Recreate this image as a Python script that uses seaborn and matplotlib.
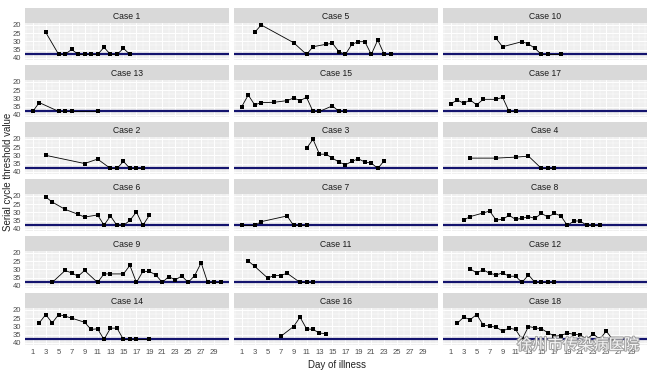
import pandas as pd
import seaborn as sns
import matplotlib.pyplot as plt
import matplotlib.patheffects as pe
from matplotlib.ticker import MultipleLocator, FixedLocator

# ---------------------------------------------------------------------
# Data: serial Ct values per case (38 = undetectable, drawn on the line)
# ---------------------------------------------------------------------
CASE_ORDER = [1, 5, 10, 13, 15, 17, 2, 3, 4, 6, 7, 8, 9, 11, 12, 14, 16, 18]
CUTOFF = 38

days_1 = [3, 5, 6, 7, 8, 9, 10, 11, 12, 13, 14, 15, 16]
ct_1 = [24.5, 38, 38, 34.9, 38, 38, 38, 38, 33.7, 38, 38, 34.3, 38]
days_5 = [3, 4, 9, 11, 12, 14, 15, 16, 17, 18, 19, 20, 21, 22, 23, 24]
ct_5 = [24.5, 20, 30.8, 38, 33.3, 31.8, 31.2, 36.3, 38, 31.8, 30.2, 30.2, 38, 29.2, 38, 38]
days_10 = [8, 9, 12, 13, 14, 15, 16, 18]
ct_10 = [28.2, 33.3, 30.2, 31.6, 34.3, 38, 38, 38]
days_13 = [1, 2, 5, 6, 7, 11]
ct_13 = [38, 32.6, 38, 38, 38, 38]
days_15 = [1, 2, 3, 4, 6, 8, 9, 10, 11, 12, 13, 15, 16, 17]
ct_15 = [35, 28, 34, 32.6, 32.4, 31.4, 29.8, 31.4, 29.4, 38, 38, 34.6, 38, 38]
days_17 = [1, 2, 3, 4, 5, 6, 8, 9, 10, 11]
ct_17 = [33.4, 31, 33, 31, 34, 30.6, 30.6, 29.4, 38, 38]
days_2 = [3, 9, 11, 13, 14, 15, 16, 17, 18]
ct_2 = [30, 35, 32.3, 38, 38, 33.7, 38, 38, 38]
days_3 = [11, 12, 13, 14, 15, 16, 17, 18, 19, 20, 21, 22, 23]
ct_3 = [25.7, 20.2, 29.3, 29.3, 31.7, 34.1, 35.8, 33.7, 32.1, 34.1, 34.7, 38, 33.3]
days_4 = [4, 8, 11, 13, 15, 16, 17]
ct_4 = [31.7, 31.7, 31.1, 30.5, 38, 38, 38]
days_6 = [3, 4, 6, 8, 9, 11, 12, 13, 14, 15, 16, 17, 18, 19]
ct_6 = [20.6, 23.7, 28.2, 31.2, 32.9, 31.6, 37.8, 32.2, 38, 38, 34.9, 29.8, 38, 31.8]
days_7 = [1, 3, 4, 8, 9, 10, 11]
ct_7 = [38, 38, 35.7, 32.2, 38, 38, 38]
days_8 = [3, 4, 6, 7, 8, 9, 10, 11, 12, 13, 14, 15, 16, 17, 18, 19, 20, 21, 22, 23, 24]
ct_8 = [34.7, 32.6, 30.4, 29.2, 34.7, 34.3, 31.8, 34.3, 33.7, 32.6, 33.7, 30.6, 32.9,
        30.6, 32.2, 38, 35.3, 35.3, 38, 38, 38]
days_9 = [4, 6, 7, 8, 9, 11, 12, 13, 15, 16, 17, 18, 19, 20, 21, 22, 23, 24, 25, 26,
          27, 28, 29, 30]
ct_9 = [38, 30.7, 32.2, 34.2, 30.7, 38, 32.8, 32.8, 32.8, 27.6, 38, 31.3, 31.3, 33.4,
        38, 34.4, 36.5, 34, 38, 33.8, 26, 38, 38, 38]
days_11 = [2, 3, 5, 6, 7, 8, 10, 11, 12]
ct_11 = [24.9, 28.2, 35.3, 33.8, 33.8, 32.4, 38, 38, 38]
days_12 = [4, 5, 6, 7, 8, 9, 10, 11, 12, 13, 14, 15, 16, 17]
ct_12 = [29.7, 32.2, 30.3, 32.4, 33.4, 32.2, 34.2, 34.2, 38, 33.4, 38, 38, 38, 38]
days_14 = [2, 3, 4, 5, 6, 7, 9, 10, 11, 12, 13, 14, 15, 16, 17, 19]
ct_14 = [27.9, 22.8, 27.9, 22.8, 23.8, 25, 27.5, 31.9, 31.5, 38, 31.1, 31.1, 38, 38, 38, 38]
days_16 = [7, 9, 10, 11, 12, 13, 14]
ct_16 = [36.2, 30.1, 24.4, 31.5, 31.9, 34.1, 34.5]
days_18 = [2, 3, 4, 5, 6, 7, 8, 9, 10, 11, 12, 13, 14, 15, 16, 17, 18, 19, 20, 21,
           22, 23, 24, 25, 26]
ct_18 = [28.1, 24.4, 25.9, 22.8, 29.1, 29.9, 30.5, 32.9, 31.1, 31.9, 38, 30.1, 30.9,
         31.5, 33.9, 36, 35.6, 34.1, 34.9, 35.2, 38, 34.5, 38, 32.9, 38]

CASE_DATA = {
    1: (days_1, ct_1), 5: (days_5, ct_5), 10: (days_10, ct_10),
    13: (days_13, ct_13), 15: (days_15, ct_15), 17: (days_17, ct_17),
    2: (days_2, ct_2), 3: (days_3, ct_3), 4: (days_4, ct_4),
    6: (days_6, ct_6), 7: (days_7, ct_7), 8: (days_8, ct_8),
    9: (days_9, ct_9), 11: (days_11, ct_11), 12: (days_12, ct_12),
    14: (days_14, ct_14), 16: (days_16, ct_16), 18: (days_18, ct_18),
}

df = pd.concat(
    [pd.DataFrame({"case": c, "day": d, "ct": v}) for c, (d, v) in CASE_DATA.items()],
    ignore_index=True,
)

# ---------------------------------------------------------------------
# Plot: ggplot-like facet grid built by hand
# ---------------------------------------------------------------------
sns.set_style("white")
plt.rcParams["font.family"] = ["Liberation Sans", "DejaVu Sans"]

W, H = 660, 376
fig = plt.figure(figsize=(W / 100, H / 100), dpi=100)

PANEL_W, STRIP_H, PANEL_H = 204, 15, 37
for i, case in enumerate(CASE_ORDER):
    row, col = divmod(i, 3)
    x0 = 25 + col * 209
    top = 8 + row * 57

    strip = fig.add_axes([x0 / W, 1 - (top + STRIP_H) / H, PANEL_W / W, STRIP_H / H])
    strip.set_facecolor("#D9D9D9")
    strip.set_xticks([])
    strip.set_yticks([])
    for s in strip.spines.values():
        s.set_visible(False)
    strip.text(0.5, 0.45, f"Case {case}", ha="center", va="center",
               fontsize=6.2, color="#1A1A1A")

    ax = fig.add_axes([x0 / W, 1 - (top + STRIP_H + PANEL_H) / H, PANEL_W / W, PANEL_H / H])
    ax.set_facecolor("#EFEFEF")
    ax.set_axisbelow(True)
    ax.axhline(CUTOFF, color="#14146E", lw=1.6, zorder=2)
    sns.lineplot(data=df[df["case"] == case], x="day", y="ct", ax=ax,
                 color="black", lw=0.6, marker="s", markersize=2.3,
                 markeredgewidth=0, estimator=None, sort=False, zorder=3)

    ax.set_xlim(-0.2, 31.3)
    ax.set_ylim(41.4, 18.8)
    ax.xaxis.set_major_locator(FixedLocator(range(1, 30, 2)))
    ax.xaxis.set_minor_locator(MultipleLocator(1))
    ax.yaxis.set_major_locator(MultipleLocator(5))
    ax.yaxis.set_minor_locator(MultipleLocator(2.5))
    ax.grid(which="major", color="white", lw=0.7)
    ax.grid(which="minor", color="white", lw=0.35)
    for s in ax.spines.values():
        s.set_visible(False)

    ax.set_xlabel("")
    ax.set_ylabel("")
    ax.tick_params(which="minor", length=0)
    ax.tick_params(which="major", length=2, width=0.5, color="#333333",
                   labelsize=5.5, labelcolor="#4D4D4D", pad=1)
    if col != 0:
        ax.tick_params(axis="y", left=False, labelleft=False)
    if row != 5:
        ax.tick_params(axis="x", bottom=False, labelbottom=False)

fig.text(8 / W, 1 - 172 / H, "Serial cycle threshold value", rotation=90,
         ha="center", va="center", fontsize=7, color="#222222")
fig.text(337 / W, 1 - 365 / H, "Day of illness", ha="center", va="center",
         fontsize=7, color="#222222")

# watermark
fig.text(578 / W, 1 - 345 / H, "徐州市传染病医院", ha="center", va="center",
         family=["Noto Sans CJK SC", "DejaVu Sans"], fontsize=11, color="white",
         alpha=0.9, path_effects=[pe.withStroke(linewidth=1.5, foreground="#9A9A9A")])

fig.savefig("out.png", dpi=100)
plt.close(fig)
